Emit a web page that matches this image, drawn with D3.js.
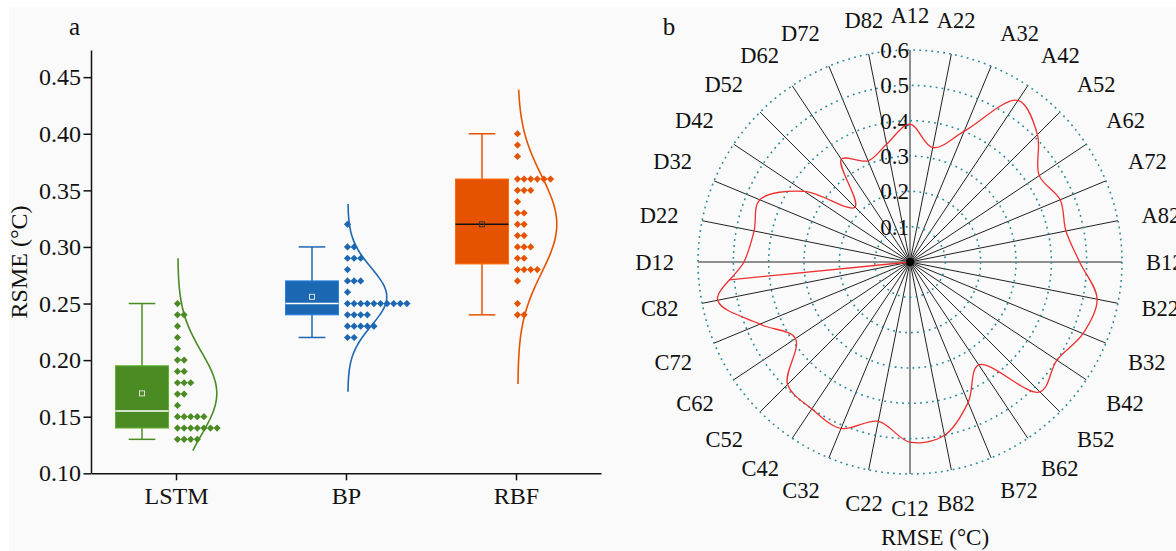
<!DOCTYPE html>
<html>
<head>
<meta charset="utf-8">
<script src="https://cdn.jsdelivr.net/npm/d3@7"></script>
<style>
  body { margin: 0; background: #fff; }
  svg text { font-family: "Liberation Serif", "Times New Roman", serif; fill: #111; }
</style>
</head>
<body>
<svg id="chart" width="1176" height="551"></svg>
<script>
// panel a: RMSE of the three models
var models = ["LSTM", "BP", "RBF"];
var lstmRmse = [0.25, 0.24, 0.24, 0.23, 0.22, 0.21, 0.20, 0.20, 0.19, 0.19,
  0.18, 0.18, 0.18, 0.17, 0.17, 0.16, 0.15, 0.15, 0.15, 0.15, 0.15,
  0.14, 0.14, 0.14, 0.14, 0.14, 0.14, 0.14, 0.13, 0.13, 0.13, 0.13];
var bpRmse = [0.32, 0.30, 0.30, 0.29, 0.29, 0.29, 0.28, 0.27, 0.27, 0.27, 0.26,
  0.25, 0.25, 0.25, 0.25, 0.25, 0.25, 0.25, 0.25, 0.25, 0.25,
  0.24, 0.24, 0.24, 0.24, 0.23, 0.23, 0.23, 0.23, 0.23, 0.22, 0.22];
var rbfRmse = [0.40, 0.39, 0.38, 0.36, 0.36, 0.36, 0.36, 0.36, 0.36, 0.35, 0.35, 0.35,
  0.34, 0.33, 0.33, 0.32, 0.32, 0.31, 0.31, 0.30, 0.30, 0.30, 0.29, 0.29,
  0.28, 0.28, 0.28, 0.28, 0.27, 0.25, 0.24, 0.24];
var curveLow = [0.12, 0.172, 0.179];
var curveHigh = [0.29, 0.338, 0.44];
var yTicks = [0.10, 0.15, 0.20, 0.25, 0.30, 0.35, 0.40, 0.45];

// panel b: RMSE per site
var sites = ["A12", "A22", "A32", "A42", "A52", "A62", "A72", "A82",
  "B12", "B22", "B32", "B42", "B52", "B62", "B72", "B82",
  "C12", "C22", "C32", "C42", "C52", "C62", "C72", "C82",
  "D12", "D22", "D32", "D42", "D52", "D62", "D72", "D82"];
var siteRmse = [0.39, 0.33, 0.40, 0.55, 0.51, 0.44, 0.46, 0.45,
  0.48, 0.54, 0.53, 0.50, 0.52, 0.35, 0.43, 0.50,
  0.51, 0.46, 0.51, 0.50, 0.49, 0.39, 0.46, 0.555,
  0.47, 0.45, 0.46, 0.36, 0.22, 0.35, 0.31, 0.34];
var ringTicks = [0.1, 0.2, 0.3, 0.4, 0.5, 0.6];

var colors = ["#4b8b23", "#1c67b2", "#e65300"];

var svg = d3.select("#chart");
svg.append("rect").attr("x", 9).attr("y", 7).attr("width", 1167).attr("height", 544).attr("fill", "#fafafa");

// ---------- panel a ----------
var groups = [lstmRmse, bpRmse, rbfRmse];
var x = d3.scalePoint().domain(models).range([91, 601]).padding(0.5);
var y = d3.scaleLinear().domain([0.10, 0.474]).range([473.3, 50]);

var ax = svg.append("g").attr("transform", "translate(91,0)")
  .call(d3.axisLeft(y).tickValues(yTicks).tickFormat(d3.format(".2f")).tickSize(7.5).tickPadding(2.5).tickSizeOuter(0));
ax.selectAll("text").style("font-size", "24px").attr("font-family", null);
var bx = svg.append("g").attr("transform", "translate(0,473.3)")
  .call(d3.axisBottom(x).tickSize(7).tickPadding(7).tickSizeOuter(0));
bx.selectAll("text").style("font-size", "24px").attr("font-family", null);
svg.selectAll(".domain, .tick line").attr("stroke", "#111").attr("stroke-width", 1.5);

svg.append("text").attr("transform", "translate(27,262) rotate(-90)")
  .attr("text-anchor", "middle").style("font-size", "24px").text("RSME (°C)");
svg.append("text").attr("x", 74.5).attr("y", 35).attr("text-anchor", "middle").style("font-size", "25px").text("a");

function stats(vals) {
  var s = vals.slice().sort(d3.ascending);
  var half = Math.floor(s.length / 2);
  var q1 = d3.median(s.slice(0, half)), q3 = d3.median(s.slice(s.length - half));
  var iqr = q3 - q1;
  return {
    q1: q1, q3: q3, med: d3.median(s), mean: d3.mean(s), sd: d3.deviation(s),
    lo: d3.min(s.filter(function(v) { return v >= q1 - 1.5 * iqr - 1e-9; })),
    hi: d3.max(s.filter(function(v) { return v <= q3 + 1.5 * iqr + 1e-9; }))
  };
}

groups.forEach(function(vals, gi) {
  var c = colors[gi], st = stats(vals), cx = x(models[gi]);
  var bc = cx - 34;
  var g = svg.append("g");
  g.append("line").attr("x1", bc).attr("x2", bc).attr("y1", y(st.lo)).attr("y2", y(st.hi))
    .attr("stroke", c).attr("stroke-width", 1.5);
  [st.lo, st.hi].forEach(function(v) {
    g.append("line").attr("x1", bc - 13.3).attr("x2", bc + 13.3).attr("y1", y(v)).attr("y2", y(v))
      .attr("stroke", c).attr("stroke-width", 1.5);
  });
  g.append("rect").attr("x", bc - 26.5).attr("width", 53).attr("y", y(st.q3)).attr("height", y(st.q1) - y(st.q3))
    .attr("fill", c).attr("stroke", d3.color(c).brighter(0.7)).attr("stroke-width", 1);
  var inner = gi === 2 ? "#111" : "#fff";
  g.append("line").attr("x1", bc - 26.5).attr("x2", bc + 26.5).attr("y1", y(st.med)).attr("y2", y(st.med))
    .attr("stroke", inner).attr("stroke-width", 1.5);
  g.append("rect").attr("x", bc - 2.5).attr("y", y(st.mean) - 2.5).attr("width", 5).attr("height", 5)
    .attr("fill", "none").attr("stroke", gi === 2 ? "#333" : "#ddd").attr("stroke-width", 1);

  // dots stacked by value
  var counts = {};
  vals.forEach(function(v) {
    var k = v.toFixed(2);
    var i = counts[k] || 0; counts[k] = i + 1;
    g.append("path").attr("d", d3.symbol(d3.symbolSquare, 26)())
      .attr("transform", "translate(" + (cx + 1.5 + i * 6.6) + "," + y(v) + ") rotate(45)")
      .attr("fill", c);
  });

  // normal curve
  var pts = d3.range(curveLow[gi], curveHigh[gi] + 1e-6, 0.002);
  g.append("path").datum(pts)
    .attr("d", d3.line()
      .x(function(v) { return cx + 1.8 + 39 * Math.exp(-Math.pow(v - st.mean, 2) / (2 * st.sd * st.sd)); })
      .y(function(v) { return y(v); }).curve(d3.curveBasis))
    .attr("fill", "none").attr("stroke", c).attr("stroke-width", 1.6);
});

// ---------- panel b ----------
var rcx = 910, rcy = 262;
var r = d3.scaleLinear().domain([0, 0.6]).range([0, 212]);
var ang = d3.scaleLinear().domain([0, sites.length]).range([0, 2 * Math.PI]);
var pb = svg.append("g").attr("transform", "translate(" + rcx + "," + rcy + ")");

pb.selectAll(".spoke").data(sites).enter().append("line")
  .attr("x1", 0).attr("y1", 0)
  .attr("x2", function(d, i) { return r(0.6) * Math.sin(ang(i)); })
  .attr("y2", function(d, i) { return -r(0.6) * Math.cos(ang(i)); })
  .attr("stroke", "#222").attr("stroke-width", 1);

pb.selectAll(".ring").data(ringTicks).enter().append("circle")
  .attr("r", function(d) { return r(d); })
  .attr("fill", "none").attr("stroke", "#2b8a9c").attr("stroke-width", 1.6).attr("stroke-dasharray", "1.8 4.2");

pb.selectAll(".rlab").data(ringTicks).enter().append("text")
  .attr("x", -1).attr("y", function(d) { return -r(d); }).attr("dy", "0.35em")
  .attr("text-anchor", "end").style("font-size", "23px").text(function(d) { return d.toFixed(1); });

// site labels: anchored by quadrant around a circle just outside the grid
var capH = 15;
pb.selectAll(".slab").data(sites).enter().append("text")
  .style("font-size", "22.5px")
  .each(function(d, i) {
    var s = Math.sin(ang(i)), c = Math.cos(ang(i));
    var px = 236 * s, py = -236 * c;
    var anchor = Math.abs(s) < 0.25 ? "middle" : (s > 0 ? "start" : "end");
    var base = Math.abs(c) < 0.25 ? py + capH / 2 : (c > 0 ? py - 3 : py + 3 + capH);
    d3.select(this).attr("x", px).attr("y", base).attr("text-anchor", anchor).text(d);
  });

var curve = pb.append("path").datum(siteRmse)
  .attr("d", d3.lineRadial().angle(function(d, i) { return ang(i); }).radius(function(d) { return r(d); })
    .curve(d3.curveCatmullRomClosed))
  .attr("fill", "none").attr("stroke", "#ee3030").attr("stroke-width", 1.3);

// straight segment from centre to the curve between C82 and D12
var target = ang(sites.indexOf("C82") + 0.5);
var node = curve.node(), len = node.getTotalLength(), best = null, bestDiff = 1e9;
for (var l = 0; l <= len; l += 0.5) {
  var p = node.getPointAtLength(l);
  var a = Math.atan2(p.x, -p.y); if (a < 0) a += 2 * Math.PI;
  if (Math.abs(a - target) < bestDiff) { bestDiff = Math.abs(a - target); best = p; }
}
pb.append("line").attr("x1", 0).attr("y1", 0).attr("x2", best.x).attr("y2", best.y)
  .attr("stroke", "#ee3030").attr("stroke-width", 1.3);

pb.append("circle").attr("r", 4).attr("fill", "#000");

svg.append("text").attr("x", 669).attr("y", 35).attr("text-anchor", "middle").style("font-size", "25px").text("b");
svg.append("text").attr("x", rcx + 25).attr("y", 545).attr("text-anchor", "middle").style("font-size", "23px").text("RMSE (°C)");
</script>
</body>
</html>
